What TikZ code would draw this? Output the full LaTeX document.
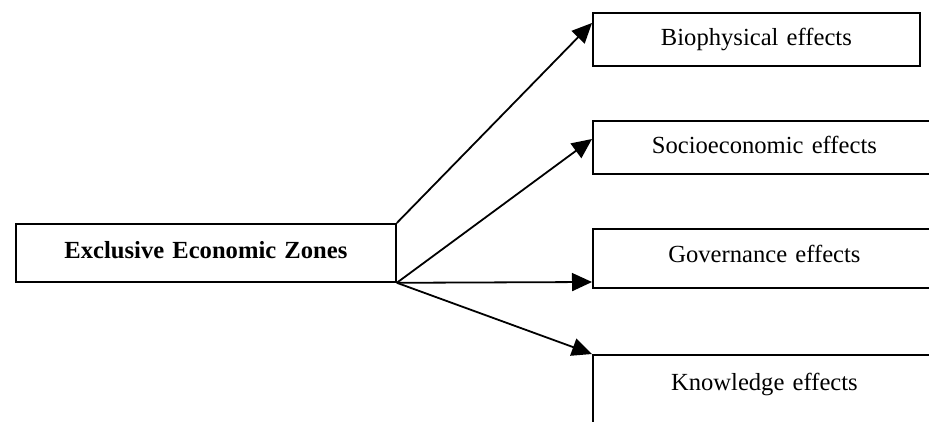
\documentclass[tikz,border=0pt]{standalone}
\usepackage{fontspec}
\setmainfont{Liberation Serif}
\usetikzlibrary{arrows.meta,calc}
\tikzset{
  box/.style={draw, line width=1.8pt, inner sep=0pt, anchor=north west, align=center,
    font=\fontsize{24.6}{29}\selectfont},
  arr/.style={line width=1.8pt, -{Triangle[length=20pt,width=18pt]}}
}
\begin{document}
\begin{tikzpicture}[x=1pt,y=-1pt]
\useasboundingbox (0,0) rectangle (929,422);
\clip (0,0) rectangle (929,422);
\node[box, text width=380pt, text height=35pt, text depth=23pt,
  font=\fontsize{24.6}{29}\selectfont\bfseries] (eez) at (15,223) {Exclusive Economic Zones};
\node[box, text width=327pt, text height=33pt, text depth=20pt] (b1) at (592,12) {Biophysical effects};
\node[box, text width=343pt, text height=33pt, text depth=20pt] (b2) at (592,120) {Socioeconomic effects};
\node[box, text width=343pt, text height=34pt, text depth=25pt] (b3) at (592,228) {Governance effects};
\node[box, text width=343pt, text height=36pt, text depth=60pt] (b4) at (592,354) {Knowledge effects};
\draw[arr] (eez.north east) -- ($(b1.north west)+(0,11)$);
\draw[arr] (eez.south east) -- ($(b2.north west)+(0,19)$);
\draw[arr] (eez.south east) -- ($(b3.north west)+(0,54)$);
\draw[arr] (eez.south east) -- (b4.north west);
\end{tikzpicture}
\end{document}
